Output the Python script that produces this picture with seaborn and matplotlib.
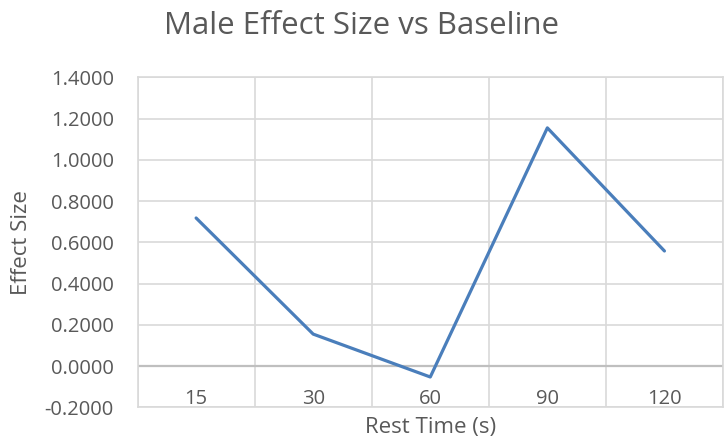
import numpy as np
import pandas as pd
import matplotlib
matplotlib.use('Agg')
import matplotlib.pyplot as plt
from matplotlib.ticker import FixedLocator, MultipleLocator, FormatStrFormatter
import seaborn as sns

# Datos
rest_time = ['15', '30', '60', '90', '120']
effect_size = [0.718, 0.155, -0.053, 1.155, 0.558]

df = pd.DataFrame({'Rest Time (s)': rest_time, 'Effect Size': effect_size})

sns.set_style('white')
plt.rcParams['font.family'] = ['Open Sans', 'DejaVu Sans']

texto = '#595959'
grade = '#d9d9d9'

fig = plt.figure(figsize=(7.24, 4.45), dpi=100)
ax = fig.add_axes([0.190, 0.0847, 0.8086, 0.7415])

x = np.arange(len(rest_time))
sns.lineplot(x=x, y=df['Effect Size'], ax=ax, color='#4a7ebb', linewidth=2.3)

ax.set_xlim(-0.5, len(rest_time) - 0.5)
ax.set_ylim(-0.2, 1.4)

# Eixo y
ax.yaxis.set_major_locator(MultipleLocator(0.2))
ax.yaxis.set_major_formatter(FormatStrFormatter('%.4f'))
ax.tick_params(axis='y', length=0, pad=17, labelsize=14.5, labelcolor=texto)

# Eixo x: rótulos dentro da área, logo abaixo do zero
ax.set_xticks(x)
ax.set_xticklabels(rest_time)
ax.tick_params(axis='x', which='both', length=0, pad=-13, labelsize=14.5, labelcolor=texto)
ax.xaxis.set_minor_locator(FixedLocator(np.arange(-0.5, len(rest_time), 1.0)))

ax.grid(True, axis='y', which='major', color=grade, linewidth=1.2)
ax.grid(True, axis='x', which='minor', color=grade, linewidth=1.2)
ax.axhline(0, color='#bfbfbf', linewidth=1.6, zorder=1)
ax.set_axisbelow(True)

for s in ax.spines.values():
    s.set_color(grade)
    s.set_linewidth(1.2)

ax.set_xlabel('Rest Time (s)', fontsize=16, color=texto)
ax.xaxis.set_label_coords(0.5, -0.028)
ax.set_ylabel('Effect Size', fontsize=16, color=texto)
ax.yaxis.set_label_coords(-0.18, 0.5)
fig.suptitle('Male Effect Size vs Baseline', fontsize=22.5, color=texto, x=0.5, y=0.976, va='top')

fig.savefig('out.png', dpi=100)
